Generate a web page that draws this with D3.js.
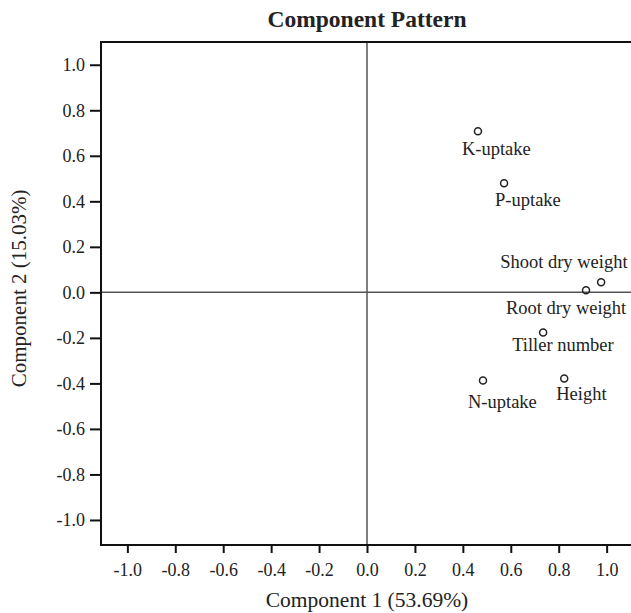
<!DOCTYPE html>
<html>
<head>
<meta charset="utf-8">
<script src="https://cdn.jsdelivr.net/npm/d3@7"></script>
<style>
  body { margin: 0; background: #fff; }
  text { font-family: "Liberation Serif", "DejaVu Serif", serif; fill: #222; }
</style>
</head>
<body>
<div id="chart"></div>
<script>
// loadings
var varNames = ["K-uptake", "P-uptake", "Shoot dry weight", "Root dry weight", "Tiller number", "N-uptake", "Height"];
var comp1 = [0.463, 0.572, 0.977, 0.914, 0.735, 0.484, 0.823];
var comp2 = [0.708, 0.479, 0.044, 0.009, -0.176, -0.387, -0.378];
var tickVals = [-1.0, -0.8, -0.6, -0.4, -0.2, 0.0, 0.2, 0.4, 0.6, 0.8, 1.0];

var title = "Component Pattern";
var xTitle = "Component 1 (53.69%)";
var yTitle = "Component 2 (15.03%)";

// where each label sits relative to its point (px)
var labelOff = {
  "K-uptake": [-16, 24],
  "P-uptake": [-9, 23],
  "Shoot dry weight": [-101, -14],
  "Root dry weight": [-80, 24],
  "Tiller number": [-31, 19],
  "N-uptake": [-15, 28],
  "Height": [-8, 22]
};

var W = 631, H = 613;
var plotL = 101, plotT = 42, plotB = 545, plotR = 633;

var svg = d3.select("#chart").append("svg")
    .attr("width", W).attr("height", H);

var x = d3.scaleLinear().domain([-1.11, 1.11]).range([plotL, plotR]);
var y = d3.scaleLinear().domain([-1.11, 1.10]).range([plotB, plotT]);

// plain hyphen like the original, not the unicode minus
var fmt = function(d) { return d3.format(".1f")(d).replace("\u2212", "-"); };

//reference lines at zero
svg.append("line")
    .attr("x1", x(0)).attr("x2", x(0)).attr("y1", plotT).attr("y2", plotB)
    .attr("stroke", "#555").attr("stroke-width", 1.5);
svg.append("line")
    .attr("x1", plotL).attr("x2", plotR).attr("y1", y(0)).attr("y2", y(0))
    .attr("stroke", "#555").attr("stroke-width", 1.5);

// frame
svg.append("rect")
    .attr("x", plotL).attr("y", plotT)
    .attr("width", plotR - plotL).attr("height", plotB - plotT)
    .attr("fill", "none").attr("stroke", "#111").attr("stroke-width", 2);

svg.append("g")
    .attr("transform", "translate(0," + plotB + ")")
    .call(d3.axisBottom(x).tickValues(tickVals).tickFormat(fmt)
        .tickSize(8).tickSizeOuter(0).tickPadding(10));
svg.append("g")
    .attr("transform", "translate(" + plotL + ",0)")
    .call(d3.axisLeft(y).tickValues(tickVals).tickFormat(fmt)
        .tickSize(11).tickSizeOuter(0).tickPadding(5));

svg.selectAll(".domain").remove();
svg.selectAll(".tick line").attr("stroke", "#111").attr("stroke-width", 2);
svg.selectAll(".tick text")
    .style("font-family", "'Liberation Serif', serif")
    .style("font-size", "18px").attr("fill", "#222");

svg.append("text")
    .attr("x", x(0)).attr("y", 27)
    .attr("text-anchor", "middle")
    .style("font-size", "23.5px").style("font-weight", "bold")
    .text(title);

svg.append("text")
    .attr("x", x(0)).attr("y", 607)
    .attr("text-anchor", "middle")
    .style("font-size", "21.5px")
    .text(xTitle);

svg.append("text")
    .attr("transform", "translate(26," + (y(0) - 4) + ") rotate(-90)")
    .attr("text-anchor", "middle")
    .style("font-size", "21px")
    .text(yTitle);

var pts = varNames.map(function(n, i) { return {name: n, c1: comp1[i], c2: comp2[i]}; });

var g = svg.append("g");
g.selectAll("circle")
    .data(pts).enter()
  .append("circle")
    .attr("cx", function(d) { return x(d.c1); })
    .attr("cy", function(d) { return y(d.c2); })
    .attr("r", 3.5)
    .attr("fill", "none")
    .attr("stroke", "#222")
    .attr("stroke-width", 1.5);

g.selectAll("text.lab")
    .data(pts).enter()
  .append("text")
    .attr("class", "lab")
    .attr("x", function(d) { return x(d.c1) + labelOff[d.name][0]; })
    .attr("y", function(d) { return y(d.c2) + labelOff[d.name][1]; })
    .style("font-size", "18.5px")
    .text(function(d) { return d.name; });
</script>
</body>
</html>
